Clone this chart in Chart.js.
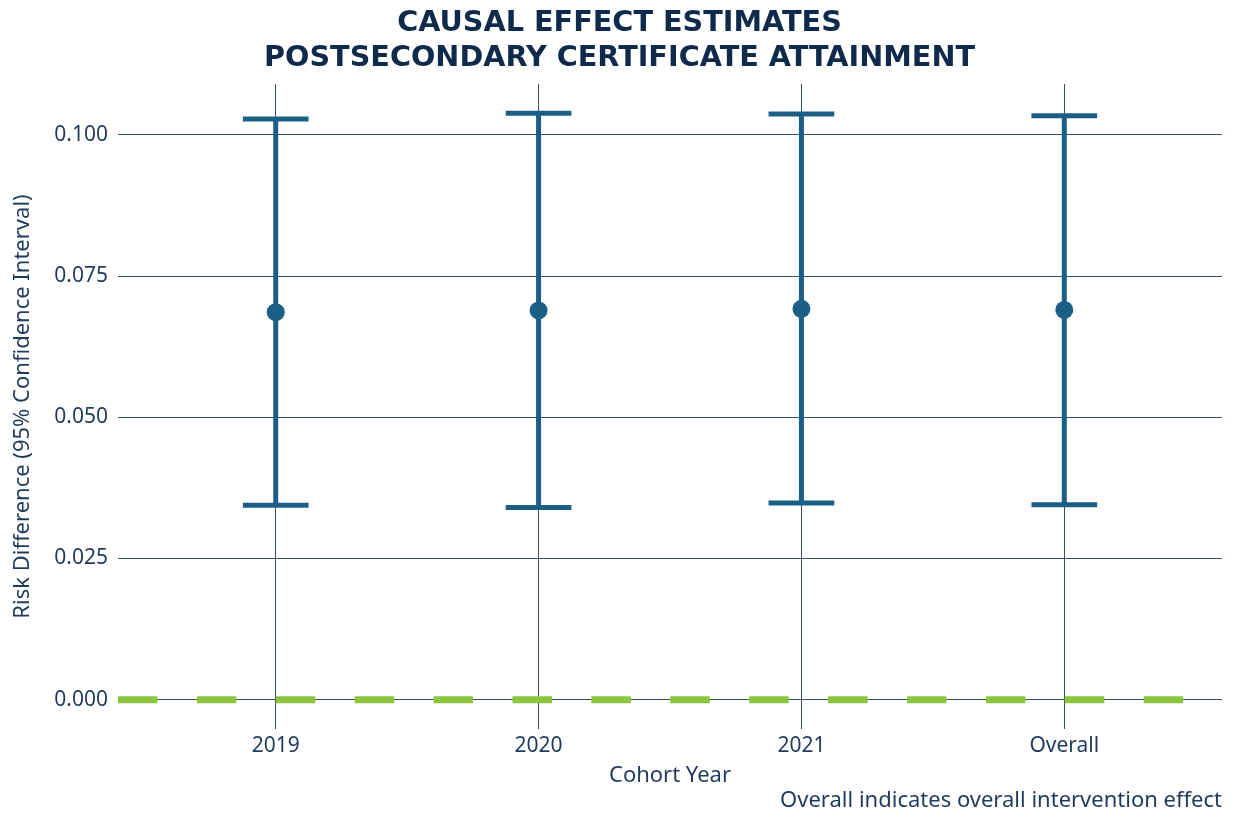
<!DOCTYPE html>
<html>
<head>
<meta charset="utf-8">
<title>Causal Effect Estimates</title>
<script src="https://cdn.jsdelivr.net/npm/chart.js@4.4.1/dist/chart.umd.min.js"></script>
<style>
  html, body { margin: 0; padding: 0; background: #ffffff; }
  #wrap { width: 1239px; height: 831px; position: relative; }
</style>
</head>
<body>
<div id="wrap"><canvas id="chart"></canvas></div>
<script>
// Cohort years and the pooled estimate
const categories = ['2019', '2020', '2021', 'Overall'];
// Risk difference point estimates
const estimates = [0.0686, 0.0689, 0.0692, 0.0690];
// 95% confidence interval bounds
const lowerCI = [0.0344, 0.0340, 0.0348, 0.0345];
const upperCI = [0.1028, 0.1038, 0.1037, 0.1034];
// Y-axis tick values
const yTicks = [0, 0.025, 0.05, 0.075, 0.1];

const titleLines = ['CAUSAL EFFECT ESTIMATES', 'POSTSECONDARY CERTIFICATE ATTAINMENT'];
const captionText = 'Overall indicates overall intervention effect';

const NAVY = '#0f2a4a';
const TEXT = '#1f3a5c';
const GRID = '#3a4d66';
const BAR = '#1b5e86';
const GREEN = '#8cc63f';
const FONT = "'Noto Sans', sans-serif";

const X_MIN = -0.6, X_MAX = categories.length - 1 + 0.6;
const Y_MIN = -0.0052, Y_MAX = 0.109;
const CAP_HALF = 0.125;

// Interval stems and caps, placed through the chart's scales
const errorBars = {
  id: 'errorBars',
  beforeDatasetsDraw(chart) {
    const { ctx, scales: { x, y } } = chart;
    ctx.save();
    ctx.strokeStyle = BAR;
    ctx.lineWidth = 5;
    ctx.lineCap = 'butt';
    categories.forEach((_, i) => {
      const cx = x.getPixelForValue(i);
      const yl = y.getPixelForValue(lowerCI[i]);
      const yu = y.getPixelForValue(upperCI[i]);
      const xl = x.getPixelForValue(i - CAP_HALF);
      const xr = x.getPixelForValue(i + CAP_HALF);
      ctx.beginPath();
      ctx.moveTo(cx, yl); ctx.lineTo(cx, yu);
      ctx.moveTo(xl, yu); ctx.lineTo(xr, yu);
      ctx.moveTo(xl, yl); ctx.lineTo(xr, yl);
      ctx.stroke();
    });
    ctx.restore();
  }
};

// Two-line heading and the footnote
const headings = {
  id: 'headings',
  afterDraw(chart) {
    const { ctx, width, chartArea } = chart;
    ctx.save();
    ctx.fillStyle = NAVY;
    ctx.font = "bold 28.7px 'DejaVu Sans', sans-serif";
    ctx.textAlign = 'center';
    ctx.textBaseline = 'alphabetic';
    ctx.fillText(titleLines[0], width / 2, 30.8);
    ctx.fillText(titleLines[1], width / 2, 65.6);
    ctx.fillStyle = TEXT;
    ctx.font = "22px " + FONT;
    ctx.textAlign = 'right';
    ctx.fillText(captionText, chartArea.right, 807);
    ctx.restore();
  }
};

new Chart(document.getElementById('chart'), {
  type: 'scatter',
  data: {
    datasets: [
      {
        type: 'line',
        label: 'No effect',
        data: [{ x: X_MIN, y: 0 }, { x: X_MAX, y: 0 }],
        borderColor: GREEN,
        borderWidth: 7,
        borderDash: [39.5, 39.4],
        borderCapStyle: 'butt',
        pointRadius: 0,
        fill: false
      },
      {
        label: 'Estimate',
        data: estimates.map((v, i) => ({ x: i, y: v })),
        backgroundColor: BAR,
        borderWidth: 0,
        pointRadius: 9
      }
    ]
  },
  options: {
    responsive: true,
    maintainAspectRatio: false,
    animation: false,
    events: [],
    layout: { padding: { top: 84, right: 17, bottom: 44.6, left: 0 } },
    plugins: { legend: { display: false }, tooltip: { enabled: false } },
    scales: {
      x: {
        type: 'linear',
        min: X_MIN,
        max: X_MAX,
        afterBuildTicks: (s) => { s.ticks = categories.map((_, i) => ({ value: i })); },
        afterFit: (s) => { s.height = 57.4; },
        grid: { color: GRID, lineWidth: 1, drawTicks: false, tickLength: 0 },
        border: { display: false },
        ticks: {
          padding: 4,
          color: TEXT,
          font: { family: FONT, size: 21 },
          callback: (v) => categories[v]
        },
        title: {
          display: true,
          text: 'Cohort Year',
          color: TEXT,
          font: { family: FONT, size: 22, lineHeight: 1 },
          padding: { top: 0, bottom: 0 }
        }
      },
      y: {
        min: Y_MIN,
        max: Y_MAX,
        afterBuildTicks: (s) => { s.ticks = yTicks.map((v) => ({ value: v })); },
        afterFit: (s) => { s.width = 118; },
        grid: { color: GRID, lineWidth: 1, drawTicks: false, tickLength: 0 },
        border: { display: false },
        ticks: {
          padding: 10,
          color: TEXT,
          font: { family: FONT, size: 21 },
          callback: (v) => v.toFixed(3)
        },
        title: {
          display: true,
          text: 'Risk Difference (95% Confidence Interval)',
          color: TEXT,
          font: { family: FONT, size: 22 },
          padding: { top: 9.8, bottom: 0 }
        }
      }
    }
  },
  plugins: [errorBars, headings]
});
</script>
</body>
</html>
